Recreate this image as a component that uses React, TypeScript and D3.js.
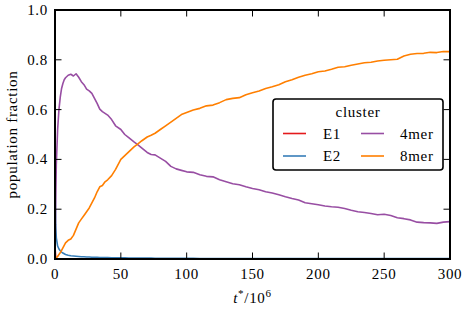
import * as d3 from "d3";
import React from "react";

// time axis (t*/10^6), shared by all series
const times = [
  0, 0.5, 1, 2, 3, 4, 5, 6, 7, 8, 10, 12, 14, 16, 18, 20, 22, 24, 26, 28, 30, 32, 34, 36, 38, 40,
  43, 46, 50, 53, 56, 60, 63, 66, 70, 73, 76, 80, 84, 88, 92, 96, 100, 105, 110, 115, 120, 125,
  130, 135, 140, 145, 150, 155, 160, 165, 170, 175, 180, 185, 190, 195, 200, 205, 210, 215, 220,
  225, 230, 235, 240, 245, 250, 255, 260, 265, 270, 275, 280, 285, 290, 295, 300,
];

const e1 = [
  0.05, 0.01, 0.003, 0.001, 0, 0, 0, 0, 0, 0, 0, 0, 0, 0, 0, 0, 0, 0, 0, 0, 0, 0, 0, 0, 0, 0,
  0, 0, 0, 0, 0, 0, 0, 0, 0, 0, 0, 0, 0, 0, 0, 0, 0, 0, 0, 0, 0, 0,
  0, 0, 0, 0, 0, 0, 0, 0, 0, 0, 0, 0, 0, 0, 0, 0, 0, 0, 0,
  0, 0, 0, 0, 0, 0, 0, 0, 0, 0, 0, 0, 0, 0, 0, 0,
];

const e2 = [
  0.35, 0.14, 0.085, 0.052, 0.04, 0.033, 0.028, 0.024, 0.021, 0.018, 0.015, 0.013, 0.012, 0.011, 0.01, 0.009, 0.009, 0.008, 0.008, 0.007, 0.007, 0.007, 0.006, 0.006, 0.006, 0.006,
  0.005, 0.005, 0.005, 0.005, 0.004, 0.004, 0.004, 0.004, 0.004, 0.004, 0.003, 0.003, 0.003, 0.003, 0.003, 0.003, 0.003, 0.003, 0.002, 0.002, 0.002, 0.002,
  0.002, 0.002, 0.002, 0.002, 0.002, 0.002, 0.002, 0.002, 0.002, 0.002, 0.002, 0.002, 0.002, 0.002, 0.002, 0.002, 0.002, 0.002, 0.002,
  0.002, 0.002, 0.002, 0.002, 0.002, 0.002, 0.002, 0.002, 0.002, 0.002, 0.002, 0.002, 0.002, 0.002, 0.002, 0.002,
];

const mer4 = [
  0, 0.22, 0.38, 0.52, 0.6, 0.65, 0.685, 0.705, 0.72, 0.728, 0.738, 0.742, 0.735, 0.744, 0.73, 0.712, 0.7, 0.682, 0.675, 0.665, 0.645, 0.625, 0.602, 0.592, 0.585, 0.578,
  0.56, 0.535, 0.52, 0.5, 0.487, 0.47, 0.458, 0.445, 0.428, 0.42, 0.418, 0.405, 0.392, 0.372, 0.362, 0.356, 0.35, 0.348, 0.338, 0.332, 0.33, 0.318,
  0.31, 0.302, 0.298, 0.29, 0.283, 0.278, 0.27, 0.265, 0.258, 0.25, 0.243, 0.237, 0.226, 0.222, 0.218, 0.213, 0.21, 0.208, 0.203,
  0.196, 0.19, 0.187, 0.183, 0.178, 0.18, 0.175, 0.166, 0.162, 0.157, 0.148, 0.146, 0.145, 0.143, 0.148, 0.15,
];

const mer8 = [
  0, 0.002, 0.005, 0.01, 0.018, 0.025, 0.035, 0.045, 0.055, 0.065, 0.075, 0.08, 0.095, 0.12, 0.145, 0.16, 0.175, 0.19, 0.205, 0.225, 0.245, 0.27, 0.29, 0.295, 0.31, 0.318,
  0.335, 0.36, 0.4, 0.415, 0.43, 0.45, 0.462, 0.475, 0.49, 0.497, 0.505, 0.52, 0.535, 0.55, 0.565, 0.58, 0.588, 0.598, 0.605, 0.615, 0.618, 0.628,
  0.64, 0.645, 0.648, 0.66, 0.668, 0.675, 0.685, 0.692, 0.7, 0.712, 0.72, 0.73, 0.738, 0.744, 0.752, 0.755, 0.762, 0.77, 0.772,
  0.778, 0.783, 0.788, 0.79, 0.795, 0.798, 0.8, 0.802, 0.815, 0.822, 0.825, 0.826, 0.83, 0.829, 0.833, 0.833,
];

const seriesNames = ["E1", "E2", "4mer", "8mer"];
const seriesValues = [e1, e2, mer4, mer8];
const seriesColors = ["#e41a1c", "#377eb8", "#984ea3", "#ff7f00"];
const xTicks = [0, 50, 100, 150, 200, 250, 300];
const yTicks = [0, 0.2, 0.4, 0.6, 0.8, 1.0];

const W = 466;
const H = 311;
const margin = { top: 10, right: 16, bottom: 52, left: 55 };
const font = "'Liberation Serif', serif";
const fs = 15;
const ls = 0.7;

export default function App() {
  const x = d3.scaleLinear().domain([0, 300]).range([margin.left, W - margin.right]);
  const y = d3.scaleLinear().domain([0, 1]).range([H - margin.bottom, margin.top]);
  const line = d3
    .line<number>()
    .x((_, i) => x(times[i]))
    .y((d) => y(d));

  const x0 = x(0), x1 = x(300), y0 = y(0), y1 = y(1);
  const tl = 6.5;

  // legend layout
  const lg = { x: 273, y: 99, w: 170, h: 71 };
  const cols = [
    { lx: 283, tx: 323 },
    { lx: 361, tx: 400 },
  ];
  const rows = [133.5, 156];

  return (
    <>
      <style>{`body{margin:0}`}</style>
      <svg
        width={W}
        height={H}
        style={{ display: "block", background: "#fff", fontFamily: font, letterSpacing: ls }}
      >
        <defs>
          <clipPath id="plot">
            <rect x={x0} y={y1} width={x1 - x0} height={y0 - y1} />
          </clipPath>
        </defs>

        <g clipPath="url(#plot)">
          {seriesValues.map((vals, i) => (
            <path
              key={seriesNames[i]}
              d={line(vals) ?? ""}
              fill="none"
              stroke={seriesColors[i]}
              strokeWidth={1.6}
              strokeLinejoin="round"
            />
          ))}
        </g>

        {/* ticks, inward on all four sides */}
        {xTicks.map((t) => (
          <g key={"xt" + t} stroke="#000" strokeWidth={1}>
            <line x1={x(t)} x2={x(t)} y1={y0} y2={y0 - tl} />
            <line x1={x(t)} x2={x(t)} y1={y1} y2={y1 + tl} />
          </g>
        ))}
        {yTicks.map((t) => (
          <g key={"yt" + t} stroke="#000" strokeWidth={1}>
            <line x1={x0} x2={x0 + tl} y1={y(t)} y2={y(t)} />
            <line x1={x1} x2={x1 - tl} y1={y(t)} y2={y(t)} />
          </g>
        ))}

        <rect x={x0} y={y1} width={x1 - x0} height={y0 - y1} fill="none" stroke="#000" strokeWidth={2} />

        {xTicks.map((t) => (
          <text key={"xl" + t} x={x(t)} y={279} textAnchor="middle" fontSize={fs}>
            {t}
          </text>
        ))}
        {yTicks.map((t) => (
          <text key={"yl" + t} x={48} y={y(t) + 5} textAnchor="end" fontSize={fs}>
            {d3.format(".1f")(t)}
          </text>
        ))}

        <text x={(x0 + x1) / 2} y={303} textAnchor="middle" fontSize={fs}>
          <tspan fontStyle="italic">t</tspan>
          <tspan dy={-6} fontSize={11}>*</tspan>
          <tspan dy={6}>/10</tspan>
          <tspan dy={-6} fontSize={11}>6</tspan>
        </text>
        <text
          transform={`translate(17,${(y0 + y1) / 2}) rotate(-90)`}
          textAnchor="middle"
          fontSize={fs}
        >
          population fraction
        </text>

        {/* legend */}
        <rect x={lg.x} y={lg.y} width={lg.w} height={lg.h} rx={3} fill="#fff" stroke="#000" strokeWidth={1.6} />
        <text x={lg.x + lg.w / 2} y={117} textAnchor="middle" fontSize={fs}>
          cluster
        </text>
        {seriesNames.map((name, i) => {
          const c = cols[Math.floor(i / 2)];
          const r = rows[i % 2];
          return (
            <g key={"lg" + name}>
              <line x1={c.lx} x2={c.lx + 23} y1={r} y2={r} stroke={seriesColors[i]} strokeWidth={1.6} />
              <text x={c.tx} y={r + 5} fontSize={fs}>
                {name}
              </text>
            </g>
          );
        })}
      </svg>
    </>
  );
}
